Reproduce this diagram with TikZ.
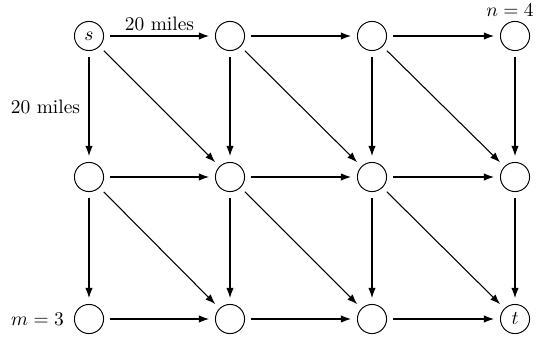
\documentclass[tikz,border=0pt]{standalone}
\usetikzlibrary{arrows.meta}
\begin{document}
\begin{tikzpicture}[x=0.515pt,y=-0.515pt,
  vtx/.style={circle,draw,line width=0.5pt,minimum size=15pt,inner sep=0pt,outer sep=3.3pt},
  arc/.style={-{Latex[length=5.2pt,width=3.8pt]},line width=0.55pt}]
\useasboundingbox (0,0) rectangle (538,342);
\node[vtx] (a00) at (89,36) {$s$};
\node[vtx] (a01) at (230,36) {};
\node[vtx] (a02) at (372,36) {};
\node[vtx] (a03) at (515,36) {};
\node[vtx] (a10) at (89,177) {};
\node[vtx] (a11) at (230,177) {};
\node[vtx] (a12) at (372,177) {};
\node[vtx] (a13) at (515,177) {};
\node[vtx,label={[inner sep=2pt]left:$m=3$}] (a20) at (89,319) {};
\node[vtx] (a21) at (230,319) {};
\node[vtx] (a22) at (372,319) {};
\node[vtx] (a23) at (515,319) {$t$};
\node (nlab) at (510,10) {$n=4$};
% horizontal
\draw[arc] (a00) -- node[above=-1pt] {20 miles} (a01);
\draw[arc] (a01) -- (a02);
\draw[arc] (a02) -- (a03);
\draw[arc] (a10) -- (a11);
\draw[arc] (a11) -- (a12);
\draw[arc] (a12) -- (a13);
\draw[arc] (a20) -- (a21);
\draw[arc] (a21) -- (a22);
\draw[arc] (a22) -- (a23);
% vertical
\draw[arc] (a00) -- node[left=1pt] {20 miles} (a10);
\draw[arc] (a01) -- (a11);
\draw[arc] (a02) -- (a12);
\draw[arc] (a03) -- (a13);
\draw[arc] (a10) -- (a20);
\draw[arc] (a11) -- (a21);
\draw[arc] (a12) -- (a22);
\draw[arc] (a13) -- (a23);
% diagonal
\draw[arc] (a00) -- (a11);
\draw[arc] (a01) -- (a12);
\draw[arc] (a02) -- (a13);
\draw[arc] (a10) -- (a21);
\draw[arc] (a11) -- (a22);
\draw[arc] (a12) -- (a23);
\end{tikzpicture}
\end{document}
